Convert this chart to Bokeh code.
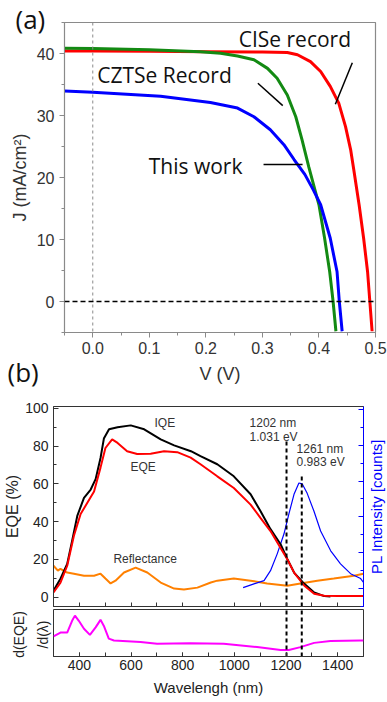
from math import pi
from bokeh.plotting import figure
from bokeh.layouts import column, row
from bokeh.models import (Range1d, LinearAxis, SingleIntervalTicker, Span, Label, Title,
                          NumeralTickFormatter)
from bokeh.embed import file_html
from bokeh.resources import INLINE

# ---------------- Panel (a): J-V curves ----------------
v_cise = [-0.05, 0.0, 0.1, 0.2, 0.3, 0.344, 0.362, 0.385, 0.403, 0.42, 0.435, 0.447, 0.456,
          0.462, 0.471, 0.479, 0.486, 0.49, 0.494]
j_cise = [40.4, 40.4, 40.35, 40.3, 40.25, 40.15, 39.8, 38.7, 37.1, 34.7, 32.0, 28.2, 24.5,
          21.0, 15.6, 10.2, 4.8, 0.0, -4.8]
v_czts = [-0.05, 0.0, 0.1, 0.19, 0.226, 0.256, 0.285, 0.309, 0.326, 0.344, 0.359, 0.37,
          0.382, 0.4, 0.41, 0.419, 0.425, 0.43]
j_czts = [40.85, 40.8, 40.6, 40.3, 40.05, 39.6, 39.0, 37.6, 36.0, 33.3, 29.8, 26.1,
          21.7, 15.6, 10.2, 4.8, 0.0, -4.8]
v_this = [-0.05, 0.0, 0.12, 0.208, 0.256, 0.285, 0.314, 0.338, 0.356, 0.375, 0.39, 0.403,
          0.42, 0.432, 0.436, 0.441]
j_this = [33.95, 33.75, 33.1, 32.1, 31.2, 29.8, 27.7, 25.3, 22.9, 20.5, 18.0, 15.6,
          10.2, 4.8, 0.0, -4.8]
curve_names = ["CISe record", "CZTSe Record", "This work"]

# ---------------- Panel (b): quantum efficiency etc. ----------------
lam_iqe = [300, 327, 353, 372, 392, 418, 444, 463, 482, 495, 515, 548, 599, 651, 715, 767,
           832, 869, 934, 998, 1063, 1101, 1140, 1179, 1205, 1232, 1271, 1309, 1348, 1372]
iqe = [3.4, 9.7, 17.6, 29.8, 43.0, 52.6, 57.0, 62.5, 73.7, 84.0, 88.9, 90.0, 91.0, 88.9, 83.6,
       80.4, 77.3, 74.7, 70.4, 64.0, 54.5, 45.6, 36.0, 28.0, 20.2, 12.8, 7.0, 2.4, 0.5, 0.3]
lam_eqe = [300, 327, 353, 379, 405, 431, 457, 482, 501, 527, 548, 585, 624, 676, 728, 779,
           831, 869, 934, 998, 1063, 1101, 1140, 1179, 1205, 1232, 1271, 1309, 1348, 1400, 1500]
eqe = [2.4, 7.6, 16.6, 32.5, 44.0, 50.0, 56.0, 68.6, 79.0, 83.6, 81.7, 77.3, 75.8, 76.0, 77.3,
       76.8, 73.9, 70.4, 64.0, 57.8, 49.0, 42.0, 35.0, 26.0, 20.0, 12.8, 6.0, 1.8, 0.7, 0.5, 0.5]
lam_ref = [300, 317, 327, 353, 379, 418, 457, 482, 501, 521, 540, 573, 618, 663, 715, 767,
           805, 857, 909, 934, 998, 1063, 1127, 1205, 1256, 1321, 1385, 1463, 1500]
refl = [16.6, 14.0, 15.0, 13.0, 12.4, 11.3, 11.3, 12.4, 9.8, 7.2, 8.7, 13.0, 15.6, 13.0, 7.7,
        4.5, 4.0, 5.0, 7.7, 8.7, 9.8, 8.7, 7.2, 6.0, 7.2, 8.7, 9.8, 11.3, 12.4]
lam_pl = [1034, 1076, 1115, 1140, 1166, 1192, 1211, 1231, 1250, 1263, 1282, 1308, 1334,
          1373, 1411, 1450, 1489, 1500]
pl_counts = [27, 132, 222, 500, 969, 1521, 2078, 2631, 2946, 2920, 2657, 2163, 1605,
             1053, 690, 416, 279, 169]
lam_d = [300, 327, 353, 372, 383, 398, 418, 441, 463, 482, 495, 514, 534, 637, 701, 830,
         959, 1088, 1179, 1211, 1256, 1309, 1372, 1488, 1500]
deqe = [0.43, 0.51, 0.51, 0.76, 0.87, 0.76, 0.59, 0.46, 0.62, 0.78, 0.65, 0.38, 0.34, 0.31,
        0.27, 0.28, 0.27, 0.20, 0.14, 0.14, 0.20, 0.29, 0.33, 0.34, 0.34]
edge_nm = [1202, 1261]
edge_ev = ["1.031 eV", "0.983 eV"]

TICK_FONT = "Liberation Sans"


def hide_labels(ax):
    ax.major_label_text_font_size = "1px"
    ax.major_label_text_color = None
    ax.major_label_standoff = 0


def blank_strip(width, frame_height, y_range, top, bottom):
    s = figure(width=width, frame_height=frame_height, x_range=Range1d(0, width),
               y_range=y_range, output_backend="svg", toolbar_location=None,
               x_axis_location=None, y_axis_location=None,
               min_border_left=0, min_border_right=0, min_border_top=top,
               min_border_bottom=bottom)
    s.grid.visible = False
    s.outline_line_color = None
    return s


# ======================= Figure (a) =======================
pa = figure(frame_width=311, frame_height=310,
            x_range=Range1d(-0.05, 0.5), y_range=Range1d(-5, 45),
            output_backend="svg", toolbar_location=None,
            min_border_left=64, min_border_right=12, min_border_top=22, min_border_bottom=60)
pa.grid.visible = False
pa.outline_line_color = "#8a8a8a"
pa.outline_line_width = 1.2

for ax in (pa.xaxis[0], pa.yaxis[0]):
    ax.axis_line_color = "#8a8a8a"
    ax.major_tick_line_color = "#8a8a8a"
    ax.minor_tick_line_color = "#8a8a8a"
    ax.major_tick_in = 0
    ax.major_tick_out = 5
    ax.minor_tick_in = 0
    ax.minor_tick_out = 3
    ax.major_label_text_font = TICK_FONT
    ax.major_label_text_font_size = "16px"
    ax.major_label_text_color = "#333333"
    ax.axis_label_text_font = TICK_FONT
    ax.axis_label_text_font_size = "18px"
    ax.axis_label_text_font_style = "normal"
    ax.axis_label_text_color = "#333333"

pa.xaxis.ticker = SingleIntervalTicker(interval=0.1, num_minor_ticks=2)
pa.xaxis.formatter = NumeralTickFormatter(format="0.0")
pa.xaxis.axis_label = "V (V)"
pa.xaxis.major_label_standoff = 4
pa.xaxis.axis_label_standoff = 7
pa.yaxis.ticker = SingleIntervalTicker(interval=10, num_minor_ticks=2)
pa.yaxis.axis_label = "J (mA/cm²)"
pa.yaxis.major_label_standoff = 5
pa.yaxis.axis_label_standoff = 4

pa.add_layout(Span(location=0, dimension="height", line_color="#8a8a8a",
                   line_dash="3 3", line_width=1))
pa.add_layout(Span(location=0, dimension="width", line_color="black",
                   line_dash="5 3", line_width=1.5))

pa.line(v_cise, j_cise, line_color="#ff0000", line_width=3)
pa.line(v_czts, j_czts, line_color="#138a13", line_width=3)
pa.line(v_this, j_this, line_color="#0000ff", line_width=3)

# leader lines and curve annotations
lead_x0 = [0.459, 0.292, 0.302]
lead_y0 = [38.5, 35.2, 22.1]
lead_x1 = [0.429, 0.336, 0.371]
lead_y1 = [31.8, 31.6, 22.1]
pa.segment(lead_x0, lead_y0, lead_x1, lead_y1, line_color="black", line_width=1.5)
text_x = [0.258, 0.008, 0.099]
text_y = [42.3, 36.6, 21.8]
for name, tx, ty in zip(curve_names, text_x, text_y):
    pa.add_layout(Label(x=tx, y=ty, text=name, text_font="Open Sans",
                        text_font_size="21px", text_color="#111111",
                        text_align="left", text_baseline="middle"))

pa.add_layout(Title(text="(a)", align="left", offset=-49, standoff=-44, vertical_align="top",
                    text_font="Open Sans", text_font_size="26px", text_font_style="normal",
                    text_color="#111111"), "above")
pa.add_layout(Title(text="(b)", align="left", offset=-57, standoff=-66, vertical_align="top",
                    text_font="Open Sans", text_font_size="26px", text_font_style="normal",
                    text_color="#111111"), "below")

# ======================= Figure (b) upper =======================
xr = Range1d(300, 1500)
yr_b = Range1d(-5, 101)
pb = figure(frame_width=310, frame_height=200, x_range=xr, y_range=yr_b,
            output_backend="svg", toolbar_location=None,
            min_border_left=53, min_border_right=2, min_border_top=14, min_border_bottom=2)
pb.grid.visible = False
pb.outline_line_color = "#333333"
pb.extra_y_ranges = {"pl": Range1d(-500, 5080)}

xb = pb.xaxis[0]
xb.ticker = SingleIntervalTicker(interval=100, num_minor_ticks=0)
xb.major_tick_in = 4
xb.major_tick_out = 0
xb.minor_tick_line_color = None
hide_labels(xb)
xb.axis_line_color = "#333333"
xb.major_tick_line_color = "#333333"

yb = pb.yaxis[0]
yb.ticker = SingleIntervalTicker(interval=20, num_minor_ticks=2)
yb.major_tick_in = 5
yb.major_tick_out = 0
yb.minor_tick_in = 3
yb.minor_tick_out = 0
yb.axis_line_color = "#333333"
yb.major_tick_line_color = "#333333"
yb.minor_tick_line_color = "#333333"
yb.major_label_text_font = TICK_FONT
yb.major_label_text_font_size = "14px"
yb.major_label_text_color = "#222222"
yb.major_label_standoff = 5
yb.axis_label = "EQE (%)"
yb.axis_label_text_font = TICK_FONT
yb.axis_label_text_font_size = "16px"
yb.axis_label_text_font_style = "normal"
yb.axis_label_text_color = "#222222"
yb.axis_label_standoff = 1

rax = LinearAxis(y_range_name="pl",
                 ticker=SingleIntervalTicker(interval=1000, num_minor_ticks=2),
                 major_tick_in=5, major_tick_out=0, minor_tick_in=3, minor_tick_out=0,
                 axis_line_color="#0000ff", major_tick_line_color="#0000ff",
                 minor_tick_line_color="#0000ff")
hide_labels(rax)
pb.add_layout(rax, "right")

pb.line(lam_ref, refl, line_color="#ff8000", line_width=2)
pb.line(lam_pl, pl_counts, line_color="#0000ff", line_width=1.2, y_range_name="pl")
pb.line(lam_iqe, iqe, line_color="black", line_width=2)
pb.line(lam_eqe, eqe, line_color="#ff0000", line_width=2)

edge_top = [84, 65]
pb.segment(edge_nm, [-5, -5], edge_nm, edge_top, line_color="black",
           line_width=2, line_dash="4 3")

ann_font = dict(text_font=TICK_FONT, text_font_size="12px", text_color="#333333",
                text_align="left", text_baseline="middle")
pb.add_layout(Label(x=691, y=92, text="IQE", **ann_font))
pb.add_layout(Label(x=598, y=69, text="EQE", **ann_font))
pb.add_layout(Label(x=532, y=20.3, text="Reflectance", **ann_font))
pb.add_layout(Label(x=1059, y=92, text=f"{edge_nm[0]} nm", **ann_font))
pb.add_layout(Label(x=1059, y=84.7, text=edge_ev[0], **ann_font))
pb.add_layout(Label(x=1241, y=78.4, text=f"{edge_nm[1]} nm", **ann_font))
pb.add_layout(Label(x=1241, y=71.5, text=edge_ev[1], **ann_font))

# strip holding the right-axis title (reads bottom to top, as in the original)
pl_strip = blank_strip(21, 200, yr_b, 14, 2)
pl_strip.add_layout(Label(x=10.5, y=48, text="PL Intensity [counts]", angle=pi / 2,
                          text_font=TICK_FONT, text_font_size="15px", text_color="#0000ff",
                          text_align="center", text_baseline="middle"))

# ======================= Figure (b) lower =======================
yr_c = Range1d(0, 1)
pc = figure(frame_width=310, frame_height=47, x_range=xr, y_range=yr_c,
            output_backend="svg", toolbar_location=None, y_axis_location=None,
            min_border_left=0, min_border_right=24, min_border_top=1, min_border_bottom=46)
pc.grid.visible = False
pc.outline_line_color = "#333333"

xc = pc.xaxis[0]
xc.ticker = SingleIntervalTicker(interval=200, num_minor_ticks=2)
xc.major_tick_in = 4
xc.major_tick_out = 0
xc.minor_tick_in = 4
xc.minor_tick_out = 0
xc.axis_line_color = "#333333"
xc.major_tick_line_color = "#333333"
xc.minor_tick_line_color = "#333333"
xc.major_label_text_font = TICK_FONT
xc.major_label_text_font_size = "14px"
xc.major_label_text_color = "#222222"
xc.major_label_standoff = 3
xc.axis_label = "Wavelengh (nm)"
xc.axis_label_text_font = TICK_FONT
xc.axis_label_text_font_size = "15px"
xc.axis_label_text_font_style = "normal"
xc.axis_label_text_color = "#222222"
xc.axis_label_standoff = 6

pc.line(lam_d, deqe, line_color="#ff00ff", line_width=2)
pc.segment(edge_nm, [0, 0], edge_nm, [1, 1], line_color="black",
           line_width=2, line_dash="4 3")

# strip holding the two-line y title of the derivative panel (whole strip is its frame)
d_strip = blank_strip(53, 94, Range1d(0, 94), 0, 0)
d_label = dict(angle=pi / 2, text_font=TICK_FONT, text_font_size="14px",
               text_color="#222222", text_align="center", text_baseline="middle")
d_strip.add_layout(Label(x=18, y=69, text="d(EQE)", **d_label))
d_strip.add_layout(Label(x=42, y=69, text="/d(λ)", **d_label))

layout = column(pa, row(pb, pl_strip, spacing=0), row(d_strip, pc, spacing=0), spacing=0)
open("out.html", "w").write(file_html(layout, INLINE))
